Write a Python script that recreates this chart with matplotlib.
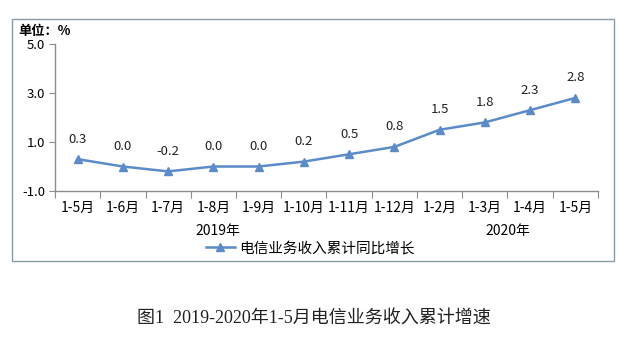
import matplotlib
matplotlib.use("Agg")
import matplotlib.pyplot as plt
from matplotlib.patches import Rectangle

plt.rcParams["font.family"] = ["Noto Sans CJK SC", "DejaVu Sans"]

# cumulative year-on-year growth of telecom service revenue (%)
periods = ["1-5月", "1-6月", "1-7月", "1-8月", "1-9月", "1-10月", "1-11月",
           "1-12月", "1-2月", "1-3月", "1-4月", "1-5月"]
growth = [0.3, 0.0, -0.2, 0.0, 0.0, 0.2, 0.5, 0.8, 1.5, 1.8, 2.3, 2.8]
years = ["2019年", "2020年"]
year_pos = [3.1, 9.5]
y_ticks = [-1.0, 1.0, 3.0, 5.0]

line_color = "#5B8BC8"
axis_color = "#8C8C8C"

fig = plt.figure(figsize=(6.28, 3.38), dpi=100)
fig.patch.set_facecolor("white")

# outer chart frame
fig.add_artist(Rectangle((0.019, 0.228), 0.959, 0.716, transform=fig.transFigure,
                         fill=False, edgecolor="#8A9BA8", linewidth=1.0))

ax = fig.add_axes([0.0876, 0.4349, 0.8646, 0.4349])
x = list(range(len(periods)))
ax.plot(x, growth, color=line_color, linewidth=1.8, marker="^",
        markersize=6, markerfacecolor=line_color, markeredgecolor=line_color,
        label="电信业务收入累计同比增长")

for xi, v in zip(x, growth):
    ax.annotate(f"{v:.1f}", (xi, v), xytext=(0, 14.5), textcoords="offset points",
                ha="center", va="center", fontsize=9.5, color="#222222")

ax.set_xlim(-0.5, len(periods) - 0.5)
ax.set_ylim(-1.0, 5.0)
ax.set_yticks(y_ticks)
ax.set_yticklabels([f"{t:.1f}" for t in y_ticks], fontsize=9.5)

# category boundaries carry the ticks, labels sit at the centres
ax.set_xticks([i - 0.5 for i in range(len(periods) + 1)])
ax.set_xticklabels([])
ax.set_xticks(x, minor=True)
ax.set_xticklabels(periods, minor=True, fontsize=10)
ax.tick_params(axis="x", which="minor", length=0, pad=7)
ax.tick_params(axis="x", which="major", length=5, color=axis_color, direction="out")
ax.tick_params(axis="y", length=4, color=axis_color, pad=3)

for side in ("top", "right"):
    ax.spines[side].set_visible(False)
for side in ("left", "bottom"):
    ax.spines[side].set_color(axis_color)
    ax.spines[side].set_linewidth(1.0)

for name, pos in zip(years, year_pos):
    ax.text(pos, -0.27, name, transform=ax.get_xaxis_transform(),
            ha="center", va="center", fontsize=10)

fig.text(0.029, 0.908, "单位：%", fontsize=9.5, fontweight="bold",
         ha="left", va="center")

ax.legend(loc="center", bbox_to_anchor=(0.47, -0.39), frameon=False,
          fontsize=10.5, handlelength=2.0, handletextpad=0.3, borderaxespad=0)

fig.text(0.5, 0.06, "图1  2019-2020年1-5月电信业务收入累计增速",
         family=["Liberation Serif", "Noto Sans CJK SC"], fontsize=13,
         ha="center", va="center", color="#222222")

fig.savefig("out.png", dpi=100)
